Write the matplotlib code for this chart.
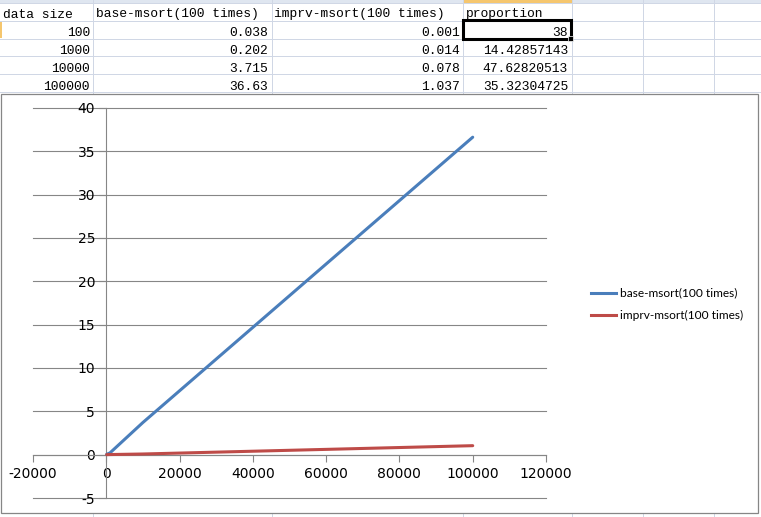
import matplotlib
matplotlib.use('Agg')
import matplotlib.pyplot as plt
from matplotlib.lines import Line2D
from matplotlib.patches import Rectangle

W, H = 761, 517

# ---- data ----
data_size = [100, 1000, 10000, 100000]
base_msort = [0.038, 0.202, 3.715, 36.63]
imprv_msort = [0.001, 0.014, 0.078, 1.037]
headers = ["data size", "base-msort(100 times)", "imprv-msort(100 times)", "proportion"]
proportion = ["38", "14.42857143", "47.62820513", "35.32304725"]
x_ticks = [-20000, 0, 20000, 40000, 60000, 80000, 100000, 120000]
y_ticks = [-5, 0, 5, 10, 15, 20, 25, 30, 35, 40]
series_names = ["base-msort(100 times)", "imprv-msort(100 times)"]

plt.rcParams['axes.unicode_minus'] = False
fig = plt.figure(figsize=(W / 100, H / 100), dpi=100)
fig.patch.set_facecolor('white')


def fx(x):
    return x / W


def fy(y):
    return 1 - y / H


def hline(x0, x1, y, color, lw=1.0, z=1):
    fig.add_artist(Line2D([fx(x0), fx(x1)], [fy(y), fy(y)], color=color, lw=lw * 0.72,
                          transform=fig.transFigure, zorder=z))


def vline(x, y0, y1, color, lw=1.0, z=1):
    fig.add_artist(Line2D([fx(x), fx(x)], [fy(y0), fy(y1)], color=color, lw=lw * 0.72,
                          transform=fig.transFigure, zorder=z))


# ---- spreadsheet part ----
grid_c = '#d0d7e5'
fig.add_artist(Rectangle((0, fy(3)), 1, 3 / H, transform=fig.transFigure,
                         facecolor='#dfe6f0', edgecolor='none', zorder=0))
fig.add_artist(Rectangle((fx(463), fy(3)), 109 / W, 3 / H, transform=fig.transFigure,
                         facecolor='#f5c66e', edgecolor='none', zorder=0.5))
fig.add_artist(Rectangle((0, fy(38)), 2 / W, 17 / H, transform=fig.transFigure,
                         facecolor='#f5c66e', edgecolor='none', zorder=0.5))
col_edges = [93, 272, 463, 572, 643, 714]
row_edges = [3, 21, 38.5, 56, 74, 92]
for y in row_edges:
    hline(0, W, y, grid_c)
for x in col_edges:
    vline(x, 0, 94, grid_c)
    vline(x, 512, H, grid_c)

tfont = dict(family='Liberation Mono', fontsize=9.4, color='black', va='baseline')
hdr_x = [3, 96, 274, 466]
for hx, t in zip(hdr_x, headers):
    fig.text(fx(hx), fy(17.5), t, ha='left', **tfont)

row_base = [36, 54, 72, 90]
right_edges = [90, 268, 460, 568]
for i in range(4):
    vals = [str(data_size[i]), str(base_msort[i]), str(imprv_msort[i]), proportion[i]]
    for rx, v in zip(right_edges, vals):
        fig.text(fx(rx), fy(row_base[i]), v, ha='right', **tfont)

# selected cell
fig.add_artist(Rectangle((fx(463.5), fy(38.5)), 107.5 / W, 18.5 / H, transform=fig.transFigure,
                         facecolor='none', edgecolor='black', lw=2.2, zorder=3))
fig.add_artist(Rectangle((fx(568), fy(41)), 5 / W, 5 / H, transform=fig.transFigure,
                         facecolor='black', edgecolor='white', lw=0.5, zorder=4))

# ---- chart area ----
fig.add_artist(Rectangle((fx(1.5), fy(513)), (758 - 1.5) / W, (513 - 94) / H,
                         transform=fig.transFigure, facecolor='white', edgecolor='#868686',
                         lw=0.9, zorder=2))

ax = fig.add_axes([fx(33), fy(498), (546 - 33) / W, (498 - 108) / H], zorder=5)
ax.patch.set_alpha(0)
cfont = 'Lato'
gray = '#868686'

ax.plot(data_size, base_msort, color='#4a7ebb', lw=2.2, solid_capstyle='round',
        label=series_names[0], zorder=4)
ax.plot(data_size, imprv_msort, color='#be4b48', lw=2.2, solid_capstyle='round',
        label=series_names[1], zorder=4)

ax.set_xlim(-20000, 120000)
ax.set_ylim(-5, 40)
ax.set_xticks(x_ticks)
ax.set_yticks(y_ticks)
ax.set_xticklabels([str(v) for v in x_ticks], fontfamily=cfont, fontsize=8.6)
ax.set_yticklabels([str(v) for v in y_ticks], fontfamily=cfont, fontsize=8.6)
for s in ['top', 'right']:
    ax.spines[s].set_visible(False)
ax.spines['left'].set_position(('data', 0))
ax.spines['bottom'].set_position(('data', 0))
for s in ['left', 'bottom']:
    ax.spines[s].set_color(gray)
    ax.spines[s].set_linewidth(0.8)
ax.tick_params(axis='x', direction='out', length=5, width=0.8, color=gray, pad=4)
ax.tick_params(axis='y', direction='out', length=5, width=0.8, color=gray, pad=3)
ax.yaxis.grid(True, color=gray, lw=0.8)
for gl in ax.get_ygridlines():
    gl.set_clip_on(False)
ax.set_axisbelow(True)

handles = [Line2D([], [], color='#4a7ebb', lw=2.2), Line2D([], [], color='#be4b48', lw=2.2)]
fig.legend(handles, series_names, loc='upper left', bbox_to_anchor=(fx(580), fy(277)),
           bbox_transform=fig.transFigure, frameon=False,
           prop={'family': cfont, 'size': 8.6}, handlelength=2.1, handletextpad=0.35,
           labelspacing=0.95)

fig.savefig('out.png', dpi=100)
